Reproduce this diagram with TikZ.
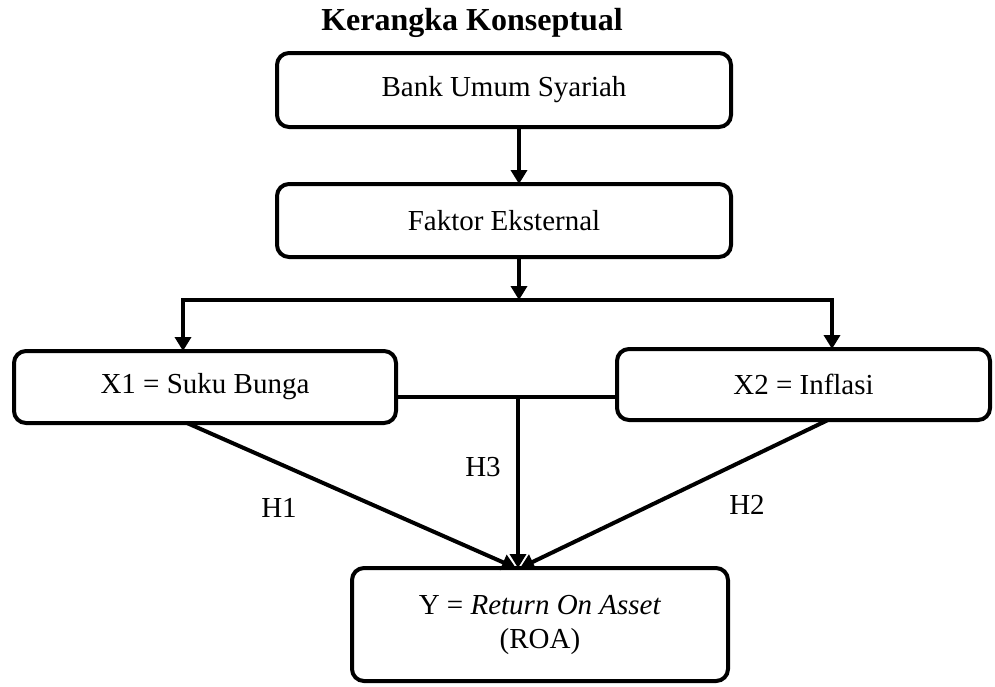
\documentclass[tikz,border=0pt]{standalone}
\usepackage{fontspec}
\setmainfont{Liberation Serif}
\usetikzlibrary{arrows.meta,calc}
\begin{document}
\begin{tikzpicture}[x=1pt,y=-1pt,
  box/.style={draw, line width=4pt, rounded corners=12pt, fill=white, align=center,
              font=\fontsize{29}{34}\selectfont, inner sep=0pt, outer sep=0pt},
  arr/.style={line width=4pt, -{Triangle[length=14pt,width=16pt]}},
  biarr/.style={line width=4pt, {Triangle[length=14pt,width=16pt]}-{Triangle[length=14pt,width=16pt]}},
  ln/.style={line width=4pt},
  lbl/.style={font=\fontsize{29}{34}\selectfont, inner sep=0pt},
  ttl/.style={font=\fontsize{32}{37}\selectfont\bfseries, inner sep=0pt, anchor=base}]
\useasboundingbox (0,0) rectangle (995,686);

\node[ttl] (title) at (472,30) {Kerangka Konseptual};

\node[box, minimum width=454pt, minimum height=74pt] (b1) at (504,90) {Bank Umum Syariah};
\node[box, minimum width=454pt, minimum height=73pt] (b2) at (504,220.5) {Faktor Eksternal};
\node[box, minimum width=382pt, minimum height=72pt] (x1) at (205,387) {X1 = Suku Bunga};
\node[box, minimum width=373pt, minimum height=71pt] (x2) at (803.5,384.5) {X2 = Inflasi};
\node[box, minimum width=376pt, minimum height=113pt] (y) at (540,624.5) {Y = \textit{Return On Asset}\\(ROA)};

\coordinate (m) at (519,300);
\coordinate (sl) at (183,300);
\coordinate (sr) at (832,300);
\coordinate (j) at (518,397);

\draw[arr] (b1.south -| m) -- (b2.north -| m);
\draw[arr] (b2.south -| m) -- (m);
\draw[biarr] (x1.north -| sl) -- (sl) -- (sr) -- (x2.north -| sr);

\draw[ln] (x1.east |- j) -- (x2.west |- j);
\draw[arr] (j) -- (y.north -| j);
\draw[arr] ($(x1.south)+(-18,0)$) -- ($(y.north -| j)+(-2,0)$);
\draw[arr] ($(x2.south)+(24.5,0)$) -- ($(y.north -| j)+(2,0)$);

\node[lbl] (h1) at (279,508) {H1};
\node[lbl] (h3) at (483,467) {H3};
\node[lbl] (h2) at (747,505) {H2};
\end{tikzpicture}
\end{document}
